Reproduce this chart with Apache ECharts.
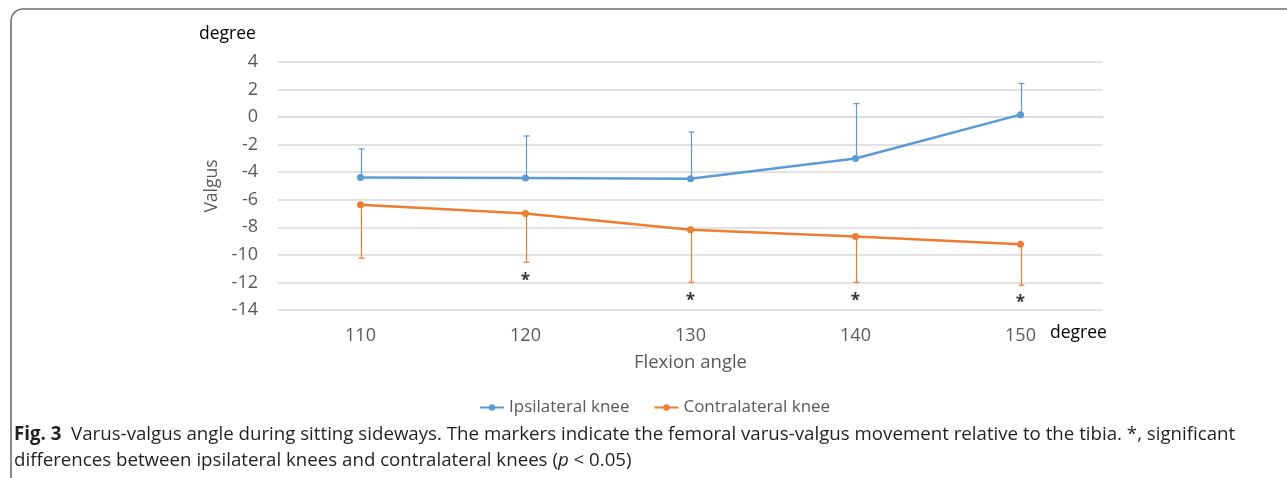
<!DOCTYPE html>
<html>
<head>
<meta charset="utf-8">
<script src="https://cdn.jsdelivr.net/npm/echarts@6/dist/echarts.min.js"></script>
<style>
html,body{margin:0;padding:0;background:#fff;}
#c{width:1287px;height:478px;}
</style>
</head>
<body>
<div id="c"></div>
<script>
var categories = ['110', '120', '130', '140', '150'];
var ipsilateral = [-4.38, -4.42, -4.47, -3.0, 0.18];
var ipsilateralUpper = [-2.31, -1.37, -1.08, 0.98, 2.44];
var contralateral = [-6.36, -7.0, -8.18, -8.67, -9.22];
var contralateralLower = [-10.24, -10.53, -11.99, -11.99, -12.2];
var significance = [null, -11.58, -13.08, -13.08, -13.2];
var yTicks = {min: -14, max: 4, interval: 2};
var seriesNames = ['Ipsilateral knee', 'Contralateral knee'];

var BLUE = '#5B9BD5', ORANGE = '#ED7D31';
var FONT = '"Open Sans", "Noto Sans", sans-serif';

function errData(base, end) {
  return base.map(function (v, i) { return [i, v, end[i]]; });
}
function errRender(color) {
  return function (params, api) {
    var p0 = api.coord([api.value(0), api.value(1)]);
    var p1 = api.coord([api.value(0), api.value(2)]);
    var x = Math.round(p0[0]) + 0.5;
    return {
      type: 'group',
      children: [
        {type: 'line', shape: {x1: x, y1: p0[1], x2: x, y2: p1[1]}, style: {stroke: color, lineWidth: 1.2}},
        {type: 'line', shape: {x1: x - 3, y1: p1[1], x2: x + 3, y2: p1[1]}, style: {stroke: color, lineWidth: 1.2}}
      ]
    };
  };
}

var chart = echarts.init(document.getElementById('c'), null, {renderer: 'canvas'});
chart.setOption({
  backgroundColor: '#fff',
  animation: false,
  grid: {left: 278, right: 184, top: 62, bottom: 168},
  legend: {
    data: seriesNames,
    left: 474,
    top: 394,
    itemWidth: 24,
    itemHeight: 8,
    itemGap: 24,
    textStyle: {fontFamily: FONT, fontSize: 17, color: '#595959'}
  },
  xAxis: {
    type: 'category',
    data: categories,
    boundaryGap: true,
    axisLine: {show: true, lineStyle: {color: '#d9d9d9', width: 1.5}},
    axisTick: {show: false},
    axisLabel: {fontFamily: FONT, fontSize: 18, color: '#595959', margin: 17},
    name: 'Flexion angle',
    nameLocation: 'middle',
    nameGap: 43,
    nameTextStyle: {fontFamily: FONT, fontSize: 18.5, color: '#595959'}
  },
  yAxis: {
    type: 'value',
    min: yTicks.min,
    max: yTicks.max,
    interval: yTicks.interval,
    axisLine: {show: false},
    axisTick: {show: false},
    splitLine: {lineStyle: {color: '#d9d9d9', width: 1.5}},
    axisLabel: {fontFamily: FONT, fontSize: 18, color: '#595959', margin: 20},
    name: 'Valgus',
    nameLocation: 'middle',
    nameGap: 48,
    nameRotate: 90,
    nameTextStyle: {fontFamily: FONT, fontSize: 17.5, color: '#595959'}
  },
  graphic: [
    {type: 'rect', silent: true, shape: {x: 11, y: 9, width: 1500, height: 800, r: 12},
     style: {fill: 'none', stroke: '#6d6d6d', lineWidth: 1.6}},
    {type: 'text', left: 199, top: 25, style: {text: 'degree', font: '17.5px ' + FONT, fill: '#000'}},
    {type: 'text', left: 1050, top: 324, style: {text: 'degree', font: '17.5px ' + FONT, fill: '#000'}},
    {type: 'text', left: 14, top: 425, style: {
      rich: {
        b: {fontFamily: FONT, fontSize: 18.7, fontWeight: 'bold', fill: '#231f20'},
        n: {fontFamily: FONT, fontSize: 18.7, fill: '#231f20'}
      },
      text: '{b|Fig. 3}{n|  Varus-valgus angle during sitting sideways. The markers indicate the femoral varus-valgus movement relative to the tibia. *, significant}'
    }},
    {type: 'text', left: 14, top: 451, style: {
      rich: {
        n: {fontFamily: FONT, fontSize: 18.7, fill: '#231f20'},
        i: {fontFamily: FONT, fontSize: 18.7, fontStyle: 'italic', fill: '#231f20'}
      },
      text: '{n|differences between ipsilateral knees and contralateral knees (}{i|p}{n| < 0.05)}'
    }}
  ],
  series: [
    {
      name: seriesNames[0], type: 'line', data: ipsilateral, z: 3,
      symbol: 'circle', symbolSize: 7,
      itemStyle: {color: BLUE}, lineStyle: {color: BLUE, width: 2.5}
    },
    {
      name: seriesNames[1], type: 'line', data: contralateral, z: 3,
      symbol: 'circle', symbolSize: 7,
      itemStyle: {color: ORANGE}, lineStyle: {color: ORANGE, width: 2.5}
    },
    {
      type: 'custom', name: 'ipsiErr', data: errData(ipsilateral, ipsilateralUpper),
      renderItem: errRender(BLUE), z: 2, silent: true
    },
    {
      type: 'custom', name: 'contraErr', data: errData(contralateral, contralateralLower),
      renderItem: errRender(ORANGE), z: 2, silent: true
    },
    {
      type: 'scatter', name: 'sig', symbolSize: 1, z: 4, silent: true,
      itemStyle: {color: 'rgba(0,0,0,0)'},
      data: significance.map(function (v, i) { return v === null ? null : [i, v]; }),
      label: {show: true, position: 'inside', formatter: '*', offset: [0, 4],
        fontFamily: FONT, fontSize: 17, fontWeight: 'bold', color: '#000'}
    }
  ]
});
</script>
</body>
</html>
